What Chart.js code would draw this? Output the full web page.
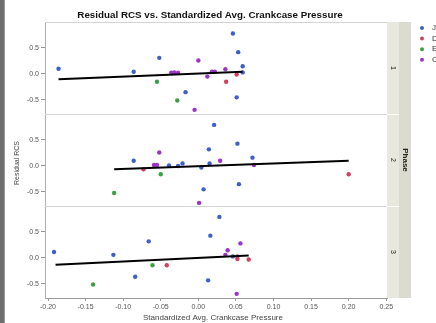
<!DOCTYPE html>
<html><head><meta charset="utf-8">
<script src="https://cdn.jsdelivr.net/npm/chart.js@4"></script>
<style>html,body{margin:0;padding:0;background:#fff;overflow:hidden}</style>
</head><body>
<canvas id="c" width="436" height="323"></canvas>
<script>
// ---- data ----
const categories = ['J', 'D', 'E', 'C'];
const phases = ['1', '2', '3'];
const xTicks = [-0.20, -0.15, -0.10, -0.05, 0.00, 0.05, 0.10, 0.15, 0.20, 0.25];
const yTicks = [-0.5, 0.0, 0.5];

const phase1_J = [[-0.186,0.10],[-0.086,0.044],[0.046,0.78],[0.053,0.42],[-0.052,0.31],[0.059,0.15],[0.059,0.03],[-0.017,-0.35],[0.051,-0.45]];
const phase1_D = [[0.051,-0.01],[0.037,-0.15]];
const phase1_E = [[-0.055,-0.15],[-0.028,-0.51]];
const phase1_C = [[0.0,0.26],[0.036,0.09],[-0.036,0.025],[-0.032,0.03],[-0.027,0.025],[0.018,0.045],[0.022,0.045],[0.012,-0.05],[-0.005,-0.69]];

const phase2_J = [[-0.086,0.10],[0.021,0.79],[0.052,0.43],[0.014,0.32],[0.072,0.16],[-0.021,0.05],[0.015,0.05],[-0.039,0.01],[-0.027,0.0],[0.004,-0.03],[0.054,-0.35],[0.007,-0.45]];
const phase2_D = [[-0.073,-0.065],[0.200,-0.16]];
const phase2_E = [[-0.112,-0.52],[-0.05,-0.16]];
const phase2_C = [[-0.052,0.26],[0.029,0.10],[-0.059,0.02],[-0.055,0.02],[0.074,0.02],[0.001,-0.71]];

const phase3_J = [[-0.192,0.115],[-0.113,0.06],[-0.084,-0.36],[-0.066,0.32],[0.028,0.79],[0.016,0.43],[0.046,0.03],[0.013,-0.43]];
const phase3_D = [[-0.042,-0.14],[0.052,-0.02],[0.067,-0.03],[0.052,0.03]];
const phase3_E = [[-0.140,-0.51],[-0.061,-0.14]];
const phase3_C = [[0.056,0.28],[0.039,0.15],[0.036,0.06],[0.051,-0.69]];

const fit1 = [[-0.186,-0.10],[0.059,0.045]];
const fit2 = [[-0.112,-0.065],[0.200,0.10]];
const fit3 = [[-0.19,-0.13],[0.067,0.05]];

// ---- styles ----
const colors = ['#3d5fc9', '#d2405e', '#3ea043', '#9b34c9'];
const FONT = '"Liberation Sans", Arial, sans-serif';
const panelData = [
  [phase1_J, phase1_D, phase1_E, phase1_C],
  [phase2_J, phase2_D, phase2_E, phase2_C],
  [phase3_J, phase3_D, phase3_E, phase3_C]
];
const fits = [fit1, fit2, fit3];
const toXY = a => a.map(([x, y]) => ({x, y}));

const datasets = [];
panelData.forEach((cats, p) => {
  datasets.push({
    type: 'line', data: toXY(fits[p]), yAxisID: 'y' + (p + 1),
    borderColor: '#000', borderWidth: 2, pointRadius: 0, showLine: true, fill: false, order: 0
  });
  cats.forEach((arr, c) => {
    datasets.push({
      label: categories[c], data: toXY(arr), yAxisID: 'y' + (p + 1),
      backgroundColor: colors[c], borderColor: colors[c], borderWidth: 0,
      pointRadius: 2.2, pointHoverRadius: 2.2, order: 1
    });
  });
});

function yScale(id, w) {
  return {
    type: 'linear', position: 'left', stack: 'phase', stackWeight: 1, weight: w,
    min: -0.77, max: 1.0,
    afterFit: s => { s.width = 45; },
    afterBuildTicks: s => { s.ticks = yTicks.map(v => ({value: v})); },
    ticks: { font: {family: FONT, size: 7}, color: '#555', padding: 2, callback: v => v.toFixed(1) },
    grid: { drawOnChartArea: false, drawTicks: true, tickLength: 4, color: '#999' },
    border: { display: true, color: '#b0b0b0' }
  };
}

const decor = {
  id: 'decor',
  afterDraw(chart) {
    const ctx = chart.ctx, a = chart.chartArea;
    ctx.save();
    // left dark bar
    ctx.fillStyle = '#6e6e6e'; ctx.fillRect(0, 0, 4, 323);
    ctx.fillStyle = '#9a9a9a'; ctx.fillRect(4, 0, 1, 323);
    // panel frames
    ctx.strokeStyle = '#d4d4d4'; ctx.lineWidth = 1;
    ['y1','y2','y3'].forEach(id => {
      const s = chart.scales[id];
      ctx.beginPath();
      ctx.moveTo(a.left, Math.round(s.top) + 0.5); ctx.lineTo(a.right, Math.round(s.top) + 0.5);
      ctx.stroke();
    });
    // strip
    const sx = a.right, sw1 = 12, sw2 = 12;
    ctx.fillStyle = '#e9e8df'; ctx.fillRect(sx, a.top, sw1, a.bottom - a.top);
    ctx.fillStyle = '#dcdbcf'; ctx.fillRect(sx + sw1, a.top, sw2, a.bottom - a.top);
    ctx.strokeStyle = '#ffffff';
    ['y2','y3'].forEach(id => {
      const s = chart.scales[id];
      ctx.beginPath(); ctx.moveTo(sx, Math.round(s.top) + 0.5); ctx.lineTo(sx + sw1, Math.round(s.top) + 0.5); ctx.stroke();
    });
    // strip labels
    ctx.fillStyle = '#222'; ctx.textAlign = 'center'; ctx.textBaseline = 'middle';
    ['y1','y2','y3'].forEach((id, i) => {
      const s = chart.scales[id];
      ctx.save(); ctx.translate(sx + 6, (s.top + s.bottom) / 2); ctx.rotate(Math.PI / 2);
      ctx.font = '7px ' + FONT; ctx.fillText(phases[i], 0, 0); ctx.restore();
    });
    ctx.save(); ctx.translate(sx + sw1 + 6, (a.top + a.bottom) / 2); ctx.rotate(Math.PI / 2);
    ctx.font = 'bold 8px ' + FONT; ctx.fillText('Phase', 0, 0); ctx.restore();
    // title
    ctx.font = 'bold 9.8px ' + FONT; ctx.fillStyle = '#111';
    ctx.fillText('Residual RCS vs. Standardized Avg. Crankcase Pressure', 210, 15);
    // axis titles
    ctx.font = '8px ' + FONT; ctx.fillStyle = '#444';
    ctx.fillText('Standardized Avg. Crankcase Pressure', 213, 318);
    ctx.save(); ctx.translate(17, 163); ctx.rotate(-Math.PI / 2);
    ctx.font = '7px ' + FONT; ctx.fillText('Residual RCS', 0, 0); ctx.restore();
    // legend
    categories.forEach((cat, i) => {
      const y = 28 + i * 10.6;
      ctx.fillStyle = colors[i];
      ctx.beginPath(); ctx.arc(422, y, 2, 0, Math.PI * 2); ctx.fill();
      ctx.fillStyle = '#333'; ctx.textAlign = 'left'; ctx.font = '8px ' + FONT;
      ctx.fillText(cat, 432, y);
    });
    ctx.restore();
  }
};

new Chart(document.getElementById('c'), {
  type: 'scatter',
  data: { datasets },
  options: {
    responsive: false, animation: false, devicePixelRatio: 1,
    layout: { padding: { left: 0, right: 49, top: 22, bottom: 0 } },
    plugins: { legend: { display: false }, title: { display: false }, tooltip: { enabled: false } },
    scales: {
      x: {
        type: 'linear', position: 'bottom', min: -0.204, max: 0.251,
        afterFit: s => { s.height = 25; },
        afterBuildTicks: s => { s.ticks = xTicks.map(v => ({value: v})); },
        ticks: { font: {family: FONT, size: 7}, color: '#555', padding: 2, maxRotation: 0, autoSkip: false,
                 callback: v => v.toFixed(2) },
        grid: { drawOnChartArea: false, drawTicks: true, tickLength: 3, color: '#999' },
        border: { display: true, color: '#999' }
      },
      y1: yScale('y1', 3),
      y2: yScale('y2', 2),
      y3: yScale('y3', 1)
    }
  },
  plugins: [decor]
});
</script>
</body></html>
